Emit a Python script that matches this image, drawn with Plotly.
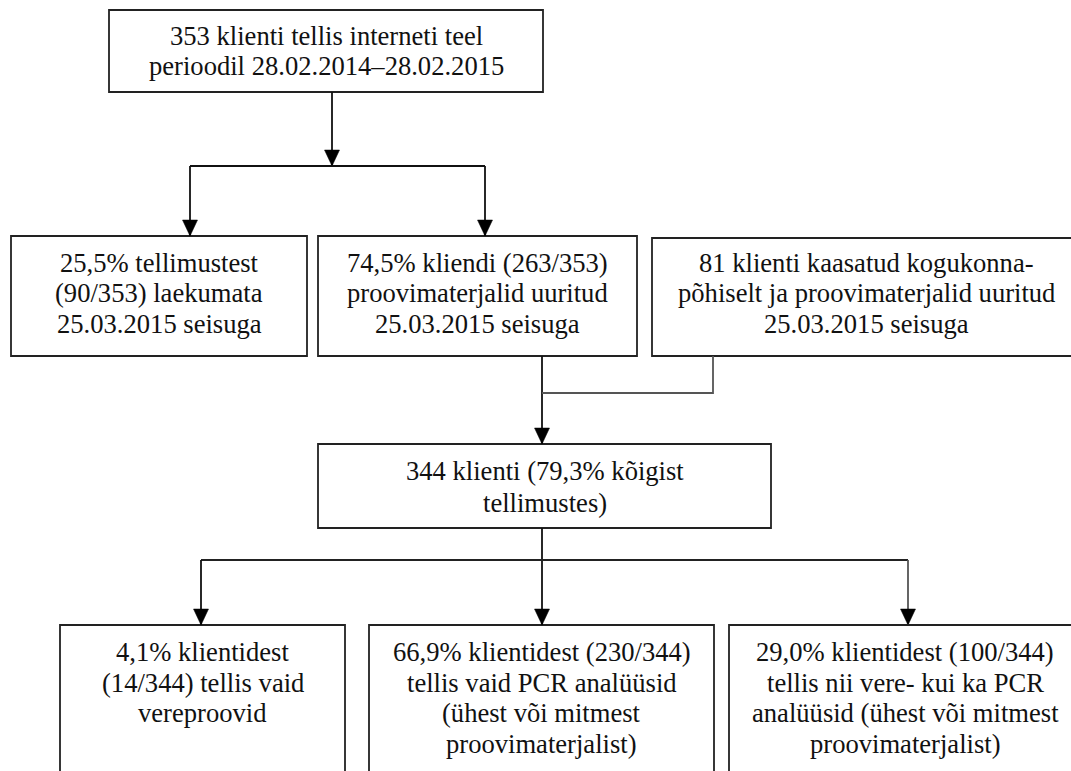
import plotly.graph_objects as go

# ---- content (texts of the flowchart boxes) ----
box_lines = [
    ["353 klienti tellis interneti teel", "perioodil 28.02.2014–28.02.2015"],
    ["25,5% tellimustest", "(90/353) laekumata", "25.03.2015 seisuga"],
    ["74,5% kliendi (263/353)", "proovimaterjalid uuritud", "25.03.2015 seisuga"],
    ["81 klienti kaasatud kogukonna-", "põhiselt ja proovimaterjalid uuritud", "25.03.2015 seisuga"],
    ["344 klienti (79,3% kõigist", "tellimustes)"],
    ["4,1% klientidest", "(14/344) tellis vaid", "vereproovid"],
    ["66,9% klientidest (230/344)", "tellis vaid PCR analüüsid", "(ühest või mitmest", "proovimaterjalist)"],
    ["29,0% klientidest (100/344)", "tellis nii vere- kui ka PCR", "analüüsid (ühest või mitmest", "proovimaterjalist)"],
]

# ---- layout (pixel coordinates of the boxes) ----
box_x0 = [109, 11, 318, 652, 318, 60, 369, 729]
box_x1 = [543, 307, 637, 1080, 771, 345, 714, 1081]
box_y0 = [10, 236, 236, 238, 444, 625, 625, 625]
box_y1 = [92, 356, 356, 356, 528, 800, 800, 800]
text_y0 = [36, 262.5, 262.5, 262.5, 471, 652, 652, 652]
line_gap = [29.8, 30.5, 30.5, 30.5, 31.6, 30.7, 30.7, 30.7]

# connectors: (points, arrow at end, colour)
connectors = [
    ([(332, 92), (332, 166)], True, "#111111"),
    ([(190, 166), (485, 166)], False, "#111111"),
    ([(190, 166), (190, 236)], True, "#111111"),
    ([(485, 166), (485, 236)], True, "#111111"),
    ([(542, 356), (542, 444)], True, "#111111"),
    ([(713, 356), (713, 393), (542, 393)], False, "#555555"),
    ([(542, 528), (542, 625)], True, "#111111"),
    ([(201, 560), (908, 560)], False, "#222222"),
    ([(201, 560), (201, 625)], True, "#111111"),
    ([(908, 560), (908, 625)], True, "#555555"),
]

W, H = 1071, 771
FONT = "Liberation Serif"
FSIZE = 26.6

fig = go.Figure()
shapes = []
annotations = []

for i, lines in enumerate(box_lines):
    shapes.append(dict(type="rect", xref="x", yref="y",
                       x0=box_x0[i], x1=box_x1[i], y0=box_y0[i], y1=box_y1[i],
                       line=dict(color="#222222", width=1.8), fillcolor="rgba(0,0,0,0)"))
    cx = (box_x0[i] + box_x1[i]) / 2
    for j, t in enumerate(lines):
        annotations.append(dict(x=cx, y=text_y0[i] + j * line_gap[i], xref="x", yref="y",
                                text=t, showarrow=False, xanchor="center", yanchor="middle",
                                font=dict(family=FONT, size=FSIZE, color="#111111")))

for pts, arrow, col in connectors:
    path = "M " + " L ".join(f"{x},{y}" for x, y in pts)
    shapes.append(dict(type="path", xref="x", yref="y", path=path,
                       line=dict(color=col, width=1.8)))
    if arrow:
        x, y = pts[-1]
        shapes.append(dict(type="path", xref="x", yref="y",
                           path=f"M {x-7.5},{y-16} L {x+7.5},{y-16} L {x},{y} Z",
                           fillcolor="#000000", line=dict(color="#000000", width=0.5)))

# invisible trace so the axes exist
fig.add_trace(go.Scatter(x=[0, W], y=[0, H], mode="markers",
                         marker=dict(opacity=0), hoverinfo="skip", showlegend=False))

fig.update_layout(
    width=W, height=H, margin=dict(l=0, r=0, t=0, b=0),
    paper_bgcolor="white", plot_bgcolor="white",
    font=dict(family=FONT, size=FSIZE, color="#111111"),
    xaxis=dict(range=[0, W], visible=False, fixedrange=True),
    yaxis=dict(range=[H, 0], visible=False, fixedrange=True),
    shapes=shapes, annotations=annotations, showlegend=False,
)

fig.write_html("out.html", config={"displayModeBar": False},
               post_script="document.body.style.margin='0';document.body.style.overflow='hidden';")
